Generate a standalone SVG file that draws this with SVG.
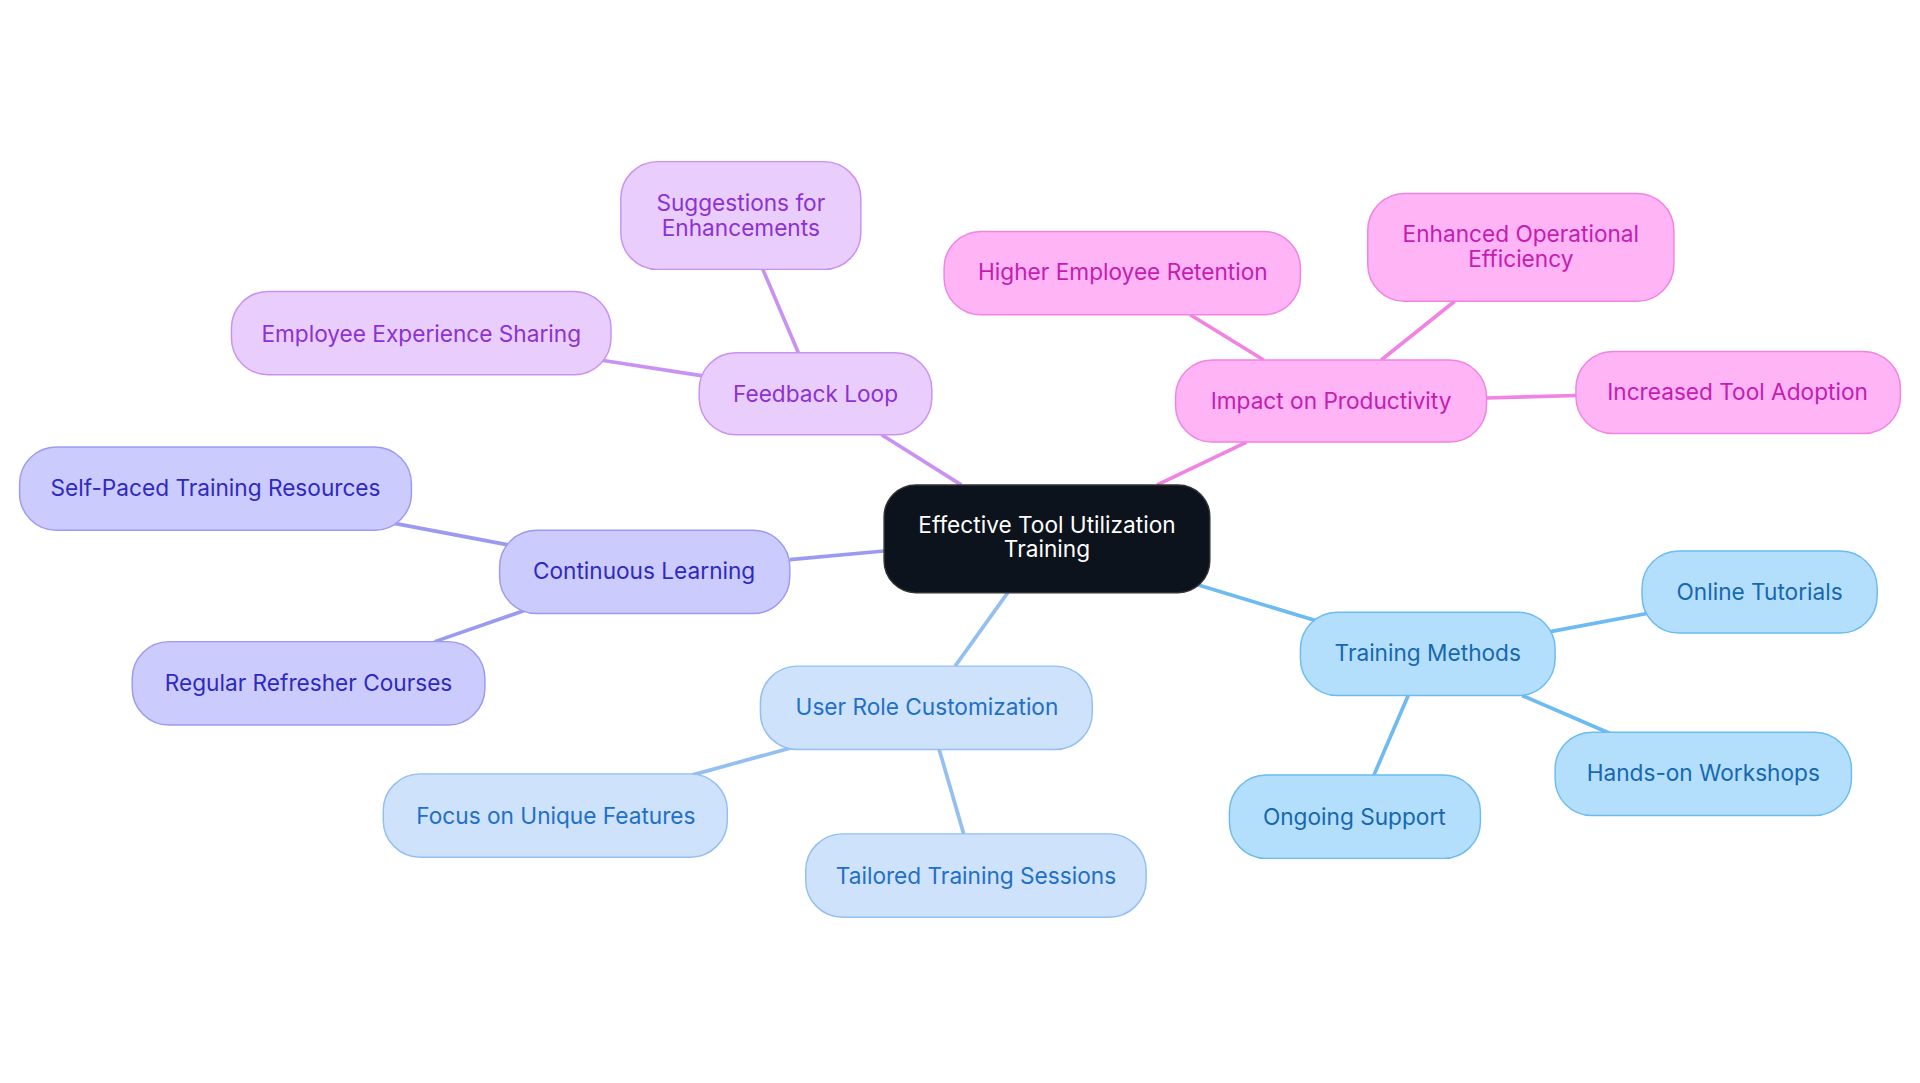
<svg xmlns="http://www.w3.org/2000/svg" width="1920" height="1083" viewBox="0 0 1920 1083">
<style>
text{font-family:Inter,"Noto Sans",sans-serif;font-size:18.5px;text-anchor:middle;dominant-baseline:central}
.c path{fill:none;stroke-width:3}
.p rect{fill:#e9cdfd;stroke:#c992f2}.p text{fill:#8c32d2}
.v rect{fill:#cccbfe;stroke:#9c9af0}.v text{fill:#2e2abf}
.l rect{fill:#cfe2fb;stroke:#93bff1}.l text{fill:#2070c8}
.b rect{fill:#b4dffc;stroke:#6dbbf0}.b text{fill:#1768b0}
.m rect{fill:#feb4f5;stroke:#f183e2}.m text{fill:#c41db0}
rect{stroke-width:1.2}
</style>
<rect width="1920" height="1083" fill="#fff"/>
<g transform="scale(1.2245)">
<g class="c">
<path d="M785 396L720 355M652 288L623 220M574 307L490 294" stroke="#c992f2"/>
<path d="M722 450L645 457M415 445L320 427M430 498L355 524" stroke="#9c9af0"/>
<path d="M823 484L780 544M645 611L565 633M767 612L787 681" stroke="#93bff1"/>
<path d="M976 477L1075 507M1265 516L1345 501M1243 568L1315 599M1150 568L1122 633" stroke="#6dbbf0"/>
<path d="M945 396L1018 361M1032 294L972 257M1128 294L1188 246M1214 325L1288 323" stroke="#f183e2"/>
</g>
<g id="center"><rect x="722" y="396" width="266" height="88" rx="26" fill="#0c131c" stroke="#333"/><text x="855" y="428" fill="#fff">Effective Tool Utilization</text><text x="855" y="448" fill="#fff">Training</text></g>
<g id="feedback" class="p"><rect x="571" y="288" width="190" height="67" rx="30"/><text x="666" y="321">Feedback Loop</text></g>
<g id="suggest" class="p"><rect x="507" y="132" width="196" height="88" rx="30"/><text x="605" y="165">Suggestions for</text><text x="605" y="186">Enhancements</text></g>
<g id="share" class="p"><rect x="189" y="238" width="310" height="68" rx="30"/><text x="344" y="272">Employee Experience Sharing</text></g>
<g id="cont" class="v"><rect x="408" y="433" width="237" height="68" rx="30"/><text x="526" y="466">Continuous Learning</text></g>
<g id="self" class="v"><rect x="16" y="365" width="320" height="68" rx="30"/><text x="176" y="398">Self-Paced Training Resources</text></g>
<g id="refresh" class="v"><rect x="108" y="524" width="288" height="68" rx="30"/><text x="252" y="557">Regular Refresher Courses</text></g>
<g id="role" class="l"><rect x="621" y="544" width="271" height="68" rx="30"/><text x="757" y="577">User Role Customization</text></g>
<g id="focus" class="l"><rect x="313" y="632" width="281" height="68" rx="30"/><text x="454" y="666">Focus on Unique Features</text></g>
<g id="tailored" class="l"><rect x="658" y="681" width="278" height="68" rx="30"/><text x="797" y="715">Tailored Training Sessions</text></g>
<g id="methods" class="b"><rect x="1062" y="500" width="208" height="68" rx="30"/><text x="1166" y="533">Training Methods</text></g>
<g id="online" class="b"><rect x="1341" y="450" width="192" height="67" rx="30"/><text x="1437" y="483">Online Tutorials</text></g>
<g id="hands" class="b"><rect x="1270" y="598" width="242" height="68" rx="30"/><text x="1391" y="631">Hands-on Workshops</text></g>
<g id="ongoing" class="b"><rect x="1004" y="633" width="205" height="68" rx="30"/><text x="1106" y="667">Ongoing Support</text></g>
<g id="impact" class="m"><rect x="960" y="294" width="254" height="67" rx="30"/><text x="1087" y="327">Impact on Productivity</text></g>
<g id="higher" class="m"><rect x="771" y="189" width="291" height="68" rx="30"/><text x="917" y="222">Higher Employee Retention</text></g>
<g id="enhanced" class="m"><rect x="1117" y="158" width="250" height="88" rx="30"/><text x="1242" y="191">Enhanced Operational</text><text x="1242" y="211">Efficiency</text></g>
<g id="increased" class="m"><rect x="1287" y="287" width="265" height="67" rx="30"/><text x="1419" y="320">Increased Tool Adoption</text></g>
</g>
</svg>
